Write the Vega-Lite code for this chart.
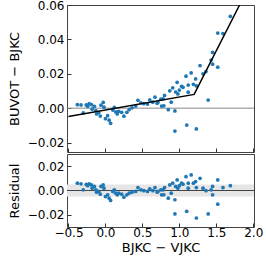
{
  "$schema": "https://vega.github.io/schema/vega-lite/v6.json",
  "padding": {"left": 7, "top": -2, "right": 5, "bottom": 2},
  "spacing": 0,
  "config": {
    "font": "DejaVu Sans",
    "view": {"stroke": "#444", "strokeWidth": 1},
    "axis": {"grid": false, "domain": false, "tickSize": -4, "tickColor": "#333", "labelPadding": 7, "labelFontSize": 12, "labelColor": "#000", "titleFontSize": 13, "titleFontWeight": "normal", "titleColor": "#000", "labelFont": "DejaVu Sans", "titleFont": "DejaVu Sans", "labelOverlap": false, "labelFlush": false, "labelBound": false}
  },
  "datasets": {
    "fit": [{"x": -0.5, "y": -0.0049}, {"x": 1.2, "y": 0.008}, {"x": 1.815, "y": 0.06}],
    "main": [
      {"x": -0.38, "y": 0.002}, {"x": -0.33, "y": 0.0019}, {"x": -0.3, "y": -0.0028}, {"x": -0.26, "y": 0.0019},
      {"x": -0.24, "y": 0.0011}, {"x": -0.22, "y": 0.0027}, {"x": -0.19, "y": 0.0021}, {"x": -0.18, "y": -0.0006},
      {"x": -0.15, "y": 0.0011}, {"x": -0.13, "y": -0.0015}, {"x": -0.12, "y": -0.0034}, {"x": -0.09, "y": -0.0026},
      {"x": -0.07, "y": -0.0046}, {"x": -0.06, "y": 0.0017}, {"x": -0.03, "y": 0.0033}, {"x": -0.02, "y": 0.0006},
      {"x": 0.0, "y": -0.0061}, {"x": 0.03, "y": -0.0044}, {"x": 0.05, "y": -0.007}, {"x": 0.07, "y": -0.0088},
      {"x": 0.1, "y": -0.0011}, {"x": 0.12, "y": 0.0004}, {"x": 0.14, "y": -0.0022}, {"x": 0.16, "y": -0.0034},
      {"x": 0.18, "y": -0.0019}, {"x": 0.22, "y": -0.0024}, {"x": 0.25, "y": -0.0047}, {"x": 0.29, "y": -0.0024},
      {"x": 0.32, "y": -0.0009}, {"x": 0.36, "y": 0.0002}, {"x": 0.41, "y": 0.0012}, {"x": 0.44, "y": 0.0046},
      {"x": 0.48, "y": 0.0031}, {"x": 0.52, "y": 0.0026}, {"x": 0.57, "y": 0.0024}, {"x": 0.6, "y": 0.0048},
      {"x": 0.64, "y": 0.0035}, {"x": 0.67, "y": 0.0064}, {"x": 0.7, "y": 0.0028}, {"x": 0.71, "y": 0.0035},
      {"x": 0.75, "y": 0.0052}, {"x": 0.76, "y": 0.0012}, {"x": 0.78, "y": 0.0054}, {"x": 0.79, "y": 0.0014},
      {"x": 0.8, "y": 0.0074}, {"x": 0.85, "y": -0.0009}, {"x": 0.87, "y": 0.0101}, {"x": 0.89, "y": 0.0035},
      {"x": 0.91, "y": 0.0118}, {"x": 0.94, "y": -0.0016}, {"x": 0.95, "y": 0.0094}, {"x": 0.97, "y": 0.015},
      {"x": 0.98, "y": 0.0083}, {"x": 1.0, "y": 0.0105}, {"x": 1.03, "y": 0.0127}, {"x": 1.05, "y": 0.0121},
      {"x": 1.09, "y": 0.0186}, {"x": 1.12, "y": 0.0134}, {"x": 1.12, "y": 0.0093}, {"x": 1.16, "y": 0.0205},
      {"x": 1.19, "y": 0.0139}, {"x": 1.22, "y": 0.017}, {"x": 1.23, "y": 0.0129}, {"x": 1.28, "y": 0.0248},
      {"x": 1.32, "y": 0.02}, {"x": 1.36, "y": 0.0213}, {"x": 1.43, "y": 0.028}, {"x": 1.45, "y": 0.0324},
      {"x": 1.45, "y": 0.0256}, {"x": 1.52, "y": 0.0437}, {"x": 1.59, "y": 0.0434}, {"x": 1.69, "y": 0.0534},
      {"x": 1.52, "y": 0.0238}, {"x": 0.94, "y": -0.0133}, {"x": 1.1, "y": -0.0098}, {"x": 1.23, "y": -0.0121},
      {"x": 1.39, "y": 0.0047}
    ],
    "resid": [
      {"x": -0.38, "r": 0.006}, {"x": -0.33, "r": 0.0055}, {"x": -0.3, "r": 0.0006}, {"x": -0.26, "r": 0.005},
      {"x": -0.24, "r": 0.004}, {"x": -0.22, "r": 0.0055}, {"x": -0.19, "r": 0.0046}, {"x": -0.18, "r": 0.0019},
      {"x": -0.15, "r": 0.0033}, {"x": -0.13, "r": 0.0006}, {"x": -0.12, "r": -0.0014}, {"x": -0.09, "r": -0.0008},
      {"x": -0.07, "r": -0.003}, {"x": -0.06, "r": 0.0033}, {"x": -0.03, "r": 0.0046}, {"x": -0.02, "r": 0.0019},
      {"x": 0.0, "r": -0.005}, {"x": 0.03, "r": -0.0035}, {"x": 0.05, "r": -0.0063}, {"x": 0.07, "r": -0.0082},
      {"x": 0.1, "r": -0.0008}, {"x": 0.12, "r": 0.0006}, {"x": 0.14, "r": -0.0022}, {"x": 0.16, "r": -0.0035},
      {"x": 0.18, "r": -0.0022}, {"x": 0.22, "r": -0.003}, {"x": 0.25, "r": -0.0055}, {"x": 0.29, "r": -0.0035},
      {"x": 0.32, "r": -0.0022}, {"x": 0.36, "r": -0.0014}, {"x": 0.41, "r": -0.0008}, {"x": 0.44, "r": 0.0024},
      {"x": 0.48, "r": 0.0006}, {"x": 0.52, "r": -0.0002}, {"x": 0.57, "r": -0.0008}, {"x": 0.6, "r": 0.0014},
      {"x": 0.64, "r": -0.0002}, {"x": 0.67, "r": 0.0024}, {"x": 0.7, "r": -0.0014}, {"x": 0.71, "r": -0.0008},
      {"x": 0.75, "r": 0.0006}, {"x": 0.76, "r": -0.0035}, {"x": 0.78, "r": 0.0006}, {"x": 0.79, "r": -0.0035},
      {"x": 0.8, "r": 0.0024}, {"x": 0.85, "r": -0.0063}, {"x": 0.87, "r": 0.0046}, {"x": 0.89, "r": -0.0022},
      {"x": 0.91, "r": 0.006}, {"x": 0.94, "r": -0.0076}, {"x": 0.95, "r": 0.0033}, {"x": 0.97, "r": 0.0087},
      {"x": 0.98, "r": 0.0019}, {"x": 1.0, "r": 0.004}, {"x": 1.03, "r": 0.006}, {"x": 1.05, "r": 0.0052},
      {"x": 1.09, "r": 0.0114}, {"x": 1.12, "r": 0.006}, {"x": 1.12, "r": 0.0019}, {"x": 1.16, "r": 0.0128},
      {"x": 1.19, "r": 0.006}, {"x": 1.22, "r": 0.0073}, {"x": 1.23, "r": 0.0024}, {"x": 1.28, "r": 0.01},
      {"x": 1.32, "r": 0.0019}, {"x": 1.36, "r": -0.0002}, {"x": 1.43, "r": 0.0006}, {"x": 1.45, "r": 0.0033},
      {"x": 1.45, "r": -0.0035}, {"x": 1.52, "r": 0.0087}, {"x": 1.59, "r": 0.0024}, {"x": 1.69, "r": 0.004},
      {"x": 1.52, "r": -0.0112}, {"x": 0.94, "r": -0.0193}, {"x": 1.1, "r": -0.0171}, {"x": 1.23, "r": -0.0226},
      {"x": 1.39, "r": -0.0193}
    ]
  },
  "vconcat": [
    {
      "width": 187,
      "height": 147,
      "layer": [
        {
          "data": {"values": [{"y": 0}]},
          "mark": {"type": "rule", "color": "#888888", "strokeWidth": 1},
          "encoding": {"y": {"field": "y", "type": "quantitative", "scale": {"domain": [-0.0255, 0.06], "nice": false, "zero": false},
                  "axis": {"title": "BUVOT − BJKC", "values": [-0.02, 0, 0.02, 0.04, 0.06], "format": ".2f", "titlePadding": 6, "labelOverlap": false}}}
        },
        {
          "data": {"name": "main"},
          "mark": {"type": "circle", "size": 14, "color": "#1f77b4", "opacity": 1},
          "encoding": {
            "x": {"field": "x", "type": "quantitative", "scale": {"domain": [-0.52, 2.01], "nice": false, "zero": false},
                  "axis": {"labels": false, "title": null, "values": [-0.5, 0, 0.5, 1, 1.5, 2]}},
            "y": {"field": "y", "type": "quantitative",
                  "axis": {"title": "BUVOT − BJKC", "values": [-0.02, 0, 0.02, 0.04, 0.06], "format": ".2f", "titlePadding": 6, "labelOverlap": false}}
          }
        },
        {
          "data": {"name": "fit"},
          "mark": {"type": "line", "color": "#000000", "strokeWidth": 1.5, "clip": true},
          "encoding": {
            "x": {"field": "x", "type": "quantitative", "axis": {"labels": false, "title": null, "values": [-0.5, 0, 0.5, 1, 1.5, 2]}},
            "y": {"field": "y", "type": "quantitative",
                  "axis": {"title": "BUVOT − BJKC", "values": [-0.02, 0, 0.02, 0.04, 0.06], "format": ".2f", "titlePadding": 6, "labelOverlap": false}}
          }
        }
      ]
    },
    {
      "width": 187,
      "height": 73,
      "layer": [
        {
          "data": {"values": [{"lo": -0.005, "hi": 0.005}]},
          "mark": {"type": "rect", "color": "#e6e6e6"},
          "encoding": {
            "y": {"field": "lo", "type": "quantitative", "scale": {"domain": [-0.03, 0.03], "nice": false, "zero": false},
                  "axis": {"title": "Residual", "values": [-0.02, 0, 0.02], "format": ".2f", "titlePadding": 6, "labelOverlap": false}},
            "y2": {"field": "hi"}
          }
        },
        {
          "data": {"values": [{"y": 0}]},
          "mark": {"type": "rule", "color": "#444444", "strokeWidth": 1},
          "encoding": {"y": {"field": "y", "type": "quantitative",
                  "axis": {"title": "Residual", "values": [-0.02, 0, 0.02], "format": ".2f", "titlePadding": 6, "labelOverlap": false}}}
        },
        {
          "data": {"name": "resid"},
          "mark": {"type": "circle", "size": 14, "color": "#1f77b4", "opacity": 1},
          "encoding": {
            "x": {"field": "x", "type": "quantitative", "scale": {"domain": [-0.52, 2.01], "nice": false, "zero": false},
                  "axis": {"title": "BJKC − VJKC", "values": [-0.5, 0, 0.5, 1, 1.5, 2], "format": ".1f", "titlePadding": 3, "labelPadding": 4, "labelOverlap": false}},
            "y": {"field": "r", "type": "quantitative",
                  "axis": {"title": "Residual", "values": [-0.02, 0, 0.02], "format": ".2f", "titlePadding": 6, "labelOverlap": false}}
          }
        }
      ]
    }
  ]
}
